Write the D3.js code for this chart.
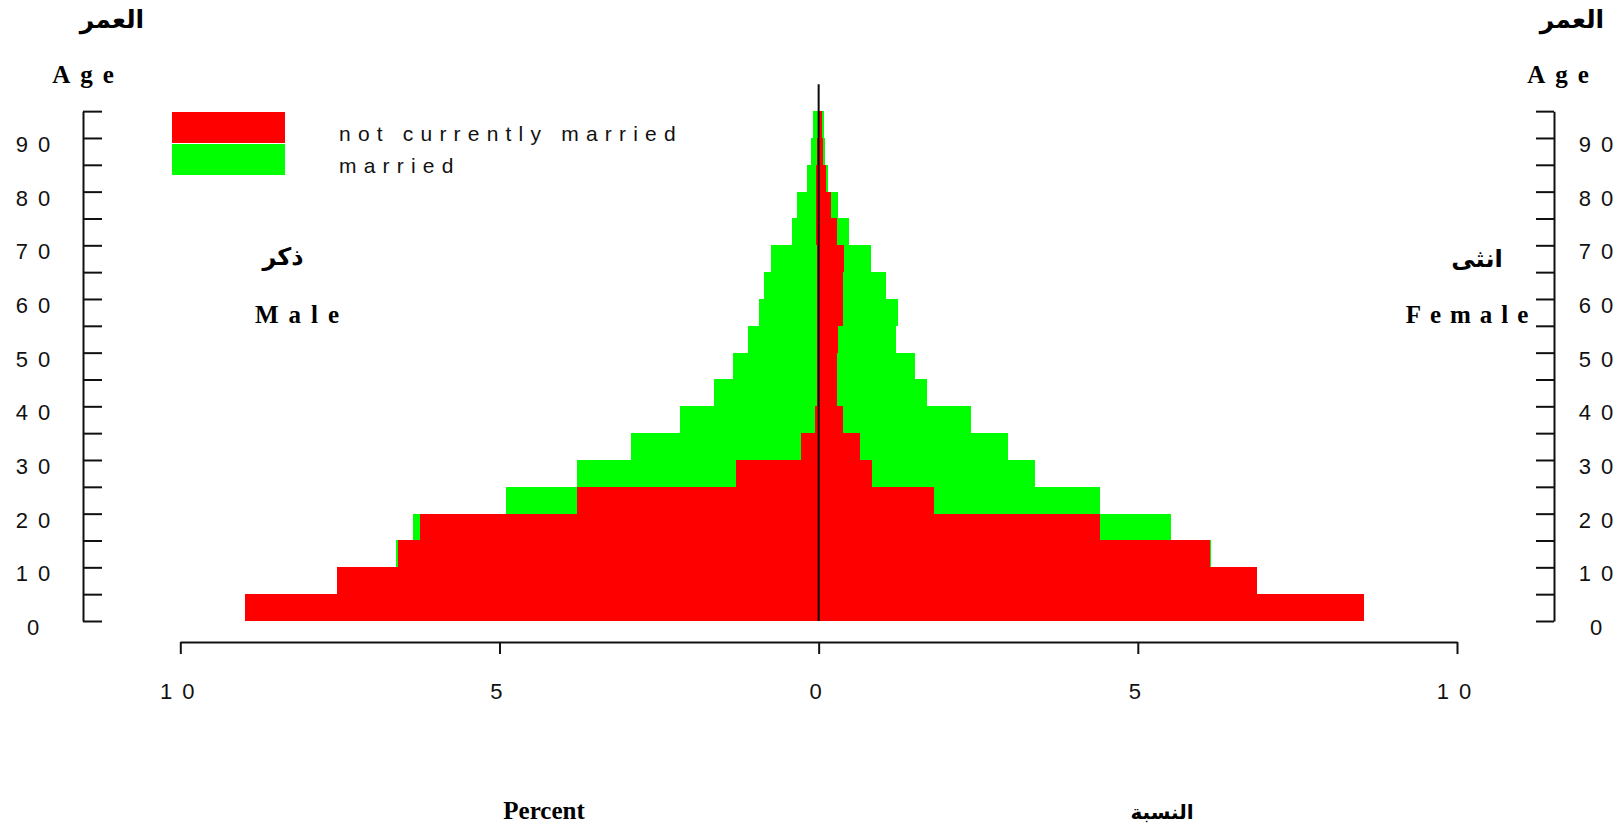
<!DOCTYPE html>
<html>
<head>
<meta charset="utf-8">
<script src="https://cdn.jsdelivr.net/npm/d3@7"></script>
<style>
  html, body { margin: 0; padding: 0; background: #fff; }
  svg { display: block; }
</style>
</head>
<body>
<svg id="chart" width="1620" height="827"></svg>
<script>
// ---- data (percent of population, 5-year age groups) ----
const ageGroups = [0, 5, 10, 15, 20, 25, 30, 35, 40, 45, 50, 55, 60, 65, 70, 75, 80, 85, 90];
const maleNotMarried   = [8.98, 7.55, 6.59, 6.24, 3.78, 1.30, 0.28, 0.065, 0.03, 0.02, 0.02, 0.02, 0.02, 0.02, 0.04, 0.04, 0.04, 0.02, 0.01];
const maleMarried      = [0.00, 0.00, 0.03, 0.12, 1.125, 2.49, 2.66, 2.105, 1.61, 1.32, 1.08, 0.915, 0.84, 0.73, 0.38, 0.305, 0.14, 0.105, 0.08];
const femaleNotMarried = [8.54, 6.86, 6.13, 4.40, 1.80, 0.835, 0.65, 0.385, 0.29, 0.28, 0.30, 0.38, 0.375, 0.39, 0.29, 0.19, 0.11, 0.067, 0.056];
const femaleMarried    = [0.00, 0.00, 0.02, 1.12, 2.60, 2.555, 2.31, 1.995, 1.40, 1.23, 0.91, 0.86, 0.675, 0.425, 0.185, 0.11, 0.04, 0.027, 0.022];
const groupWidth = 5;

const xTickValues = [-10, -5, 0, 5, 10];
const yTickValues = [0, 5, 10, 15, 20, 25, 30, 35, 40, 45, 50, 55, 60, 65, 70, 75, 80, 85, 90, 95];
const yLabelValues = [0, 10, 20, 30, 40, 50, 60, 70, 80, 90];
const legendLabels = ["not currently married", "married"];
const colors = { notMarried: "#ff0000", married: "#00ff00" };

// ---- scales ----
const svg = d3.select("#chart");
const x = d3.scaleLinear().domain([-10, 10]).range([180.3, 1457]);
const y = d3.scaleLinear().domain([0, 100]).range([621, 84.3]);
const yAxisScale = d3.scaleLinear().domain([0, 95]).range([y(0), y(95)]);

// ---- bars ----
const rows = ageGroups.map((a, i) => ({
  age: a,
  mN: maleNotMarried[i], mM: maleMarried[i],
  fN: femaleNotMarried[i], fM: femaleMarried[i]
}));

const bars = svg.append("g").attr("class", "bars");
function rect(x0, x1, a, color) {
  const xa = Math.min(x(x0), x(x1)), xb = Math.max(x(x0), x(x1));
  if (xb - xa <= 0) return;
  bars.append("rect")
    .attr("x", xa).attr("width", xb - xa)
    .attr("y", y(a + groupWidth)).attr("height", y(a) - y(a + groupWidth))
    .attr("fill", color).attr("shape-rendering", "crispEdges");
}
rows.forEach(r => {
  rect(-r.mN, 0, r.age, colors.notMarried);
  rect(-(r.mN + r.mM), -r.mN, r.age, colors.married);
  rect(0, r.fN, r.age, colors.notMarried);
  rect(r.fN, r.fN + r.fM, r.age, colors.married);
});

// center line
svg.append("line")
  .attr("x1", x(0)).attr("x2", x(0))
  .attr("y1", y(0)).attr("y2", y(100))
  .attr("stroke", "#0a0a0a").attr("stroke-width", 2);

// ---- axes ----
const tickFont = "'Liberation Sans', Arial, sans-serif";
const digitGap = 10;
const spacedDx = s => Array.from(String(s)).map((c, i) => i === 0 ? 0 : digitGap).join(" ");

const leftAxis = svg.append("g").attr("transform", "translate(83,0)")
  .call(d3.axisLeft(yAxisScale).tickValues(yTickValues).tickSize(-19).tickSizeOuter(0).tickFormat(""));
const rightAxis = svg.append("g").attr("transform", "translate(1554,0)")
  .call(d3.axisRight(yAxisScale).tickValues(yTickValues).tickSize(-18).tickSizeOuter(0).tickFormat(""));
[leftAxis, rightAxis].forEach(g => {
  g.selectAll("path, line").attr("stroke", "#111").attr("stroke-width", 2);
});

function yLabels(cx) {
  svg.append("g").selectAll("text").data(yLabelValues).join("text")
    .attr("x", cx).attr("y", d => yAxisScale(d) + 14)
    .attr("dx", d => spacedDx(d))
    .attr("text-anchor", "middle")
    .attr("font-family", tickFont).attr("font-size", 22)
    .attr("fill", "#111")
    .text(d => d);
}
yLabels(33);
yLabels(1596);

const xAxis = svg.append("g").attr("transform", "translate(0,642)")
  .call(d3.axisBottom(x).tickValues(xTickValues).tickSize(12).tickSizeOuter(0).tickFormat(""));
xAxis.selectAll("path, line").attr("stroke", "#111").attr("stroke-width", 2);
svg.append("g").selectAll("text").data(xTickValues).join("text")
  .attr("x", d => x(d) - 3).attr("y", 699)
  .attr("dx", d => spacedDx(Math.abs(d)))
  .attr("text-anchor", "middle")
  .attr("font-family", tickFont).attr("font-size", 22)
  .attr("fill", "#111")
  .text(d => Math.abs(d));

// ---- titles ----
const serif = "'Liberation Serif', 'Times New Roman', serif";
const arabic = "'DejaVu Sans', sans-serif";
function label(txt, cx, by, opts) {
  const o = Object.assign({ size: 25, family: serif, weight: "bold", spacing: 0 }, opts || {});
  svg.append("text")
    .attr("x", cx + o.spacing / 2).attr("y", by)
    .attr("text-anchor", "middle")
    .attr("font-family", o.family).attr("font-size", o.size).attr("font-weight", o.weight)
    .attr("letter-spacing", o.spacing).attr("fill", "#000")
    .text(txt);
}
label("العمر", 112, 28, { family: arabic, size: 25 });
label("العمر", 1572, 28, { family: arabic, size: 25 });
label("Age", 83, 83, { spacing: 10 });
label("Age", 1558, 83, { spacing: 10 });
label("ذكر", 283, 265, { family: arabic, size: 24 });
label("Male", 297, 323, { spacing: 10 });
label("انثى", 1477, 267, { family: arabic, size: 24 });
label("Female", 1467, 323, { spacing: 9 });
label("Percent", 544, 819, { size: 25, spacing: 0 });
label("النسبة", 1162, 819, { family: arabic, size: 20 });

// ---- legend ----
const legend = svg.append("g");
legend.selectAll("rect").data(legendLabels).join("rect")
  .attr("x", 172).attr("width", 113)
  .attr("y", (d, i) => 112 + i * 32).attr("height", 31)
  .attr("fill", (d, i) => i === 0 ? colors.notMarried : colors.married);
legend.selectAll("text").data(legendLabels).join("text")
  .attr("x", 339).attr("y", (d, i) => 141 + i * 32)
  .attr("font-family", tickFont).attr("font-size", 21)
  .attr("letter-spacing", 7.2).attr("fill", "#111")
  .text(d => d);
</script>
</body>
</html>
